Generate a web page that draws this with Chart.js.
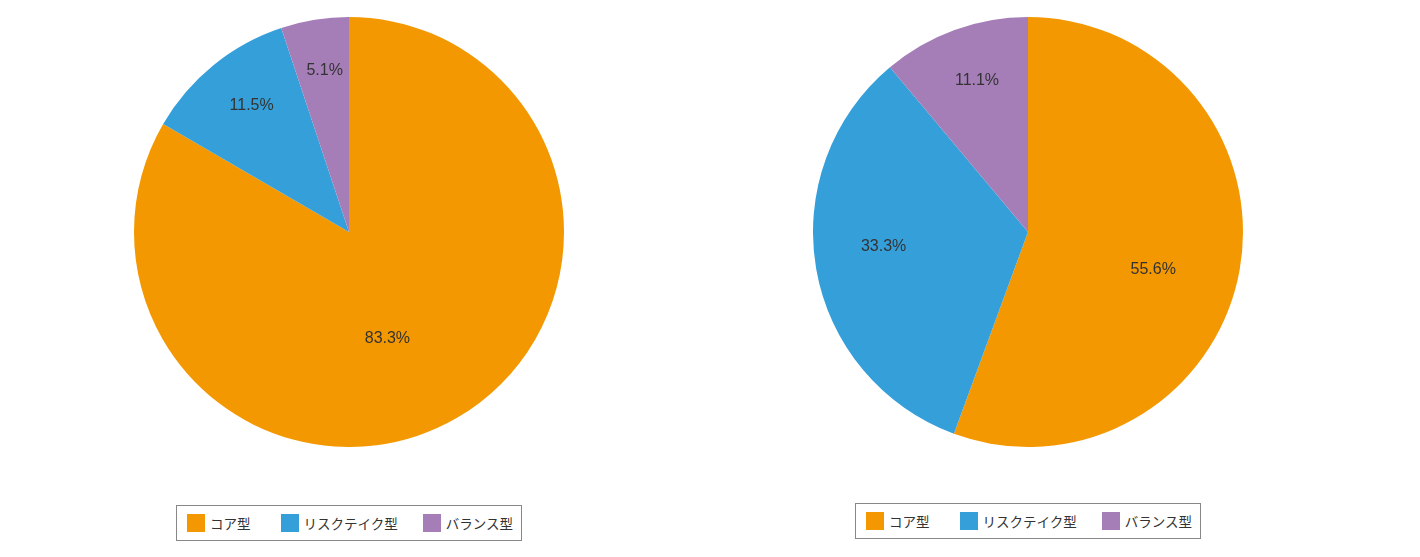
<!DOCTYPE html>
<html>
<head>
<meta charset="utf-8">
<script src="https://cdn.jsdelivr.net/npm/chart.js@4"></script>
<style>
  body { margin: 0; background: #fff; width: 1420px; height: 557px; position: relative; overflow: hidden; font-family: "Noto Sans CJK JP", "Noto Sans", sans-serif; }
  .pie-box { position: absolute; top: 17px; width: 430px; height: 430px; }
  .legend { position: absolute; height: 36px; width: 346px; border: 1px solid #888; box-sizing: border-box; display: flex; align-items: center; padding-left: 10px; font-size: 13.5px; color: #333; }
  .legend .item { display: flex; align-items: center; }
  .legend .sw { width: 18px; height: 18px; margin-right: 5px; }
</style>
</head>
<body>
<div class="pie-box" style="left:134px"><canvas id="leftPie"></canvas></div>
<div class="pie-box" style="left:813px"><canvas id="rightPie"></canvas></div>
<div class="legend" id="leftLegend" style="left:176px; top:505px"></div>
<div class="legend" id="rightLegend" style="left:855px; top:503px"></div>
<script>
        const categories = ['コア型', 'リスクテイク型', 'バランス型'];
        const leftValues = [83.3, 11.5, 5.1];
        const rightValues = [55.6, 33.3, 11.1];
        const sliceColors = ['#F39800', '#359FDA', '#A57EB8'];

        // percent labels inside the slices; big slices pull the label inward and a bit clockwise
        const pctLabels = {
            id: 'pctLabels',
            afterDatasetsDraw(chart) {
                const ctx = chart.ctx;
                const meta = chart.getDatasetMeta(0);
                const values = chart.data.datasets[0].data;
                const total = values.reduce((a, b) => a + b, 0);
                ctx.save();
                ctx.font = '16px "Liberation Sans", Arial, sans-serif';
                ctx.fillStyle = '#333';
                ctx.textAlign = 'center';
                ctx.textBaseline = 'middle';
                meta.data.forEach((arc, i) => {
                    const p = arc.getProps(['x', 'y', 'startAngle', 'endAngle', 'outerRadius'], true);
                    const frac = values[i] / total;
                    const mid = (p.startAngle + p.endAngle) / 2 + frac * 12 * Math.PI / 180;
                    const r = p.outerRadius * (0.775 - 0.3 * frac);
                    ctx.fillText(values[i].toFixed(1) + '%', p.x + Math.cos(mid) * r, p.y + Math.sin(mid) * r);
                });
                ctx.restore();
            }
        };

        const makePie = (id, values) => {
            const ctx = document.getElementById(id).getContext('2d');
            return new Chart(ctx, {
                type: 'pie',
                data: {
                    labels: categories,
                    datasets: [{
                        data: values,
                        backgroundColor: sliceColors,
                        borderWidth: 0,
                        hoverOffset: 0
                    }]
                },
                options: {
                    responsive: true,
                    maintainAspectRatio: false,
                    animation: false,
                    layout: { padding: 0 },
                    plugins: {
                        legend: { display: false },
                        tooltip: { enabled: false }
                    }
                },
                plugins: [pctLabels]
            });
        };

        const buildLegend = (id) => {
            const box = document.getElementById(id);
            const gaps = [30, 25, 0];
            categories.forEach((name, i) => {
                const item = document.createElement('div');
                item.className = 'item';
                item.style.marginRight = gaps[i] + 'px';
                item.innerHTML = `<span class="sw" style="background:${sliceColors[i]}"></span><span>${name}</span>`;
                box.appendChild(item);
            });
        };

        makePie('leftPie', leftValues);
        makePie('rightPie', rightValues);
        buildLegend('leftLegend');
        buildLegend('rightLegend');
</script>
</body>
</html>
